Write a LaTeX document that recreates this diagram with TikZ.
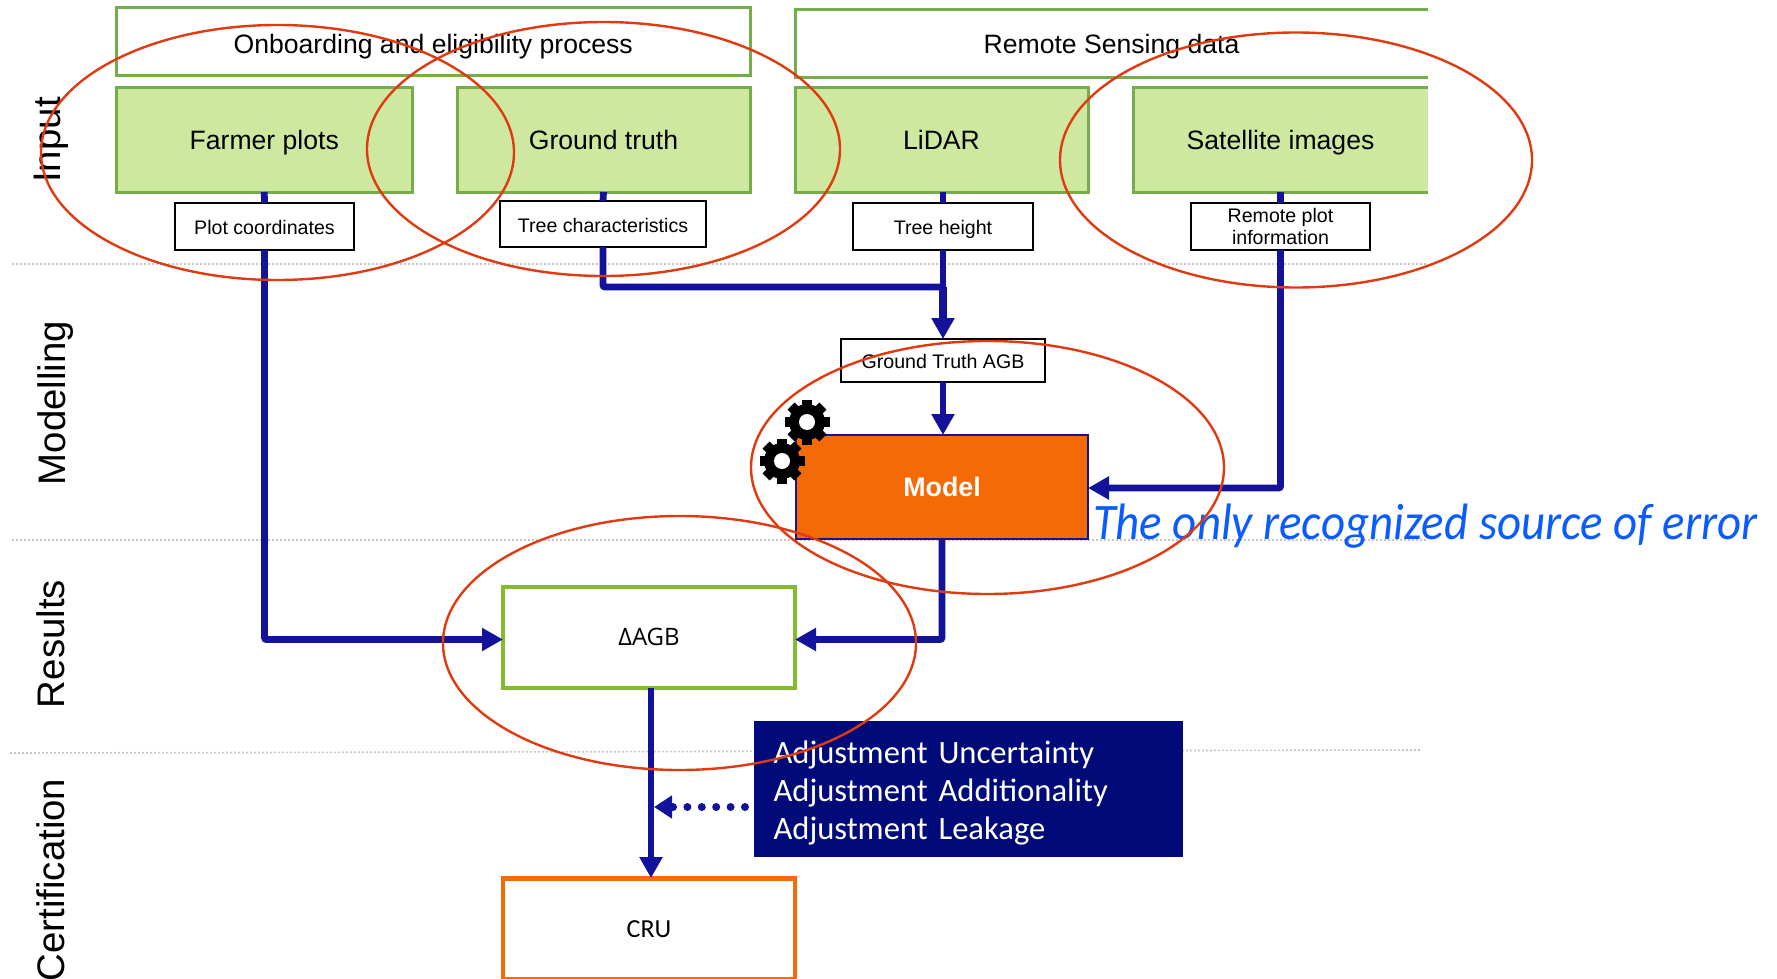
\documentclass[tikz,border=0pt]{standalone}
\usepackage{fontspec}
\setmainfont{Liberation Sans}
\newfontfamily\myr{Open Sans}
\newfontfamily\car{Carlito}
\usetikzlibrary{arrows.meta}
\definecolor{flow}{HTML}{12129A}
\definecolor{navy}{HTML}{000A78}
\definecolor{morange}{HTML}{F46A06}
\definecolor{lgreen}{HTML}{CFE8A0}
\definecolor{bgreen}{HTML}{76AD4B}
\definecolor{dgreen}{HTML}{84BC2C}
\definecolor{redl}{HTML}{E03A10}
\definecolor{bluet}{HTML}{0A5CFF}
\newcommand\fs[1]{\fontsize{#1}{#1}\selectfont}
\newcommand\bx[7][]{%
  \pgfmathsetmacro\bcx{(#3+#5)/2}\pgfmathsetmacro\bcy{(#4+#6)/2}%
  \pgfmathsetmacro\bwd{(#5-#3)*0.5}\pgfmathsetmacro\bht{(#6-#4)*0.5}%
  \node[#1,minimum width=\bwd pt,minimum height=\bht pt] (#2) at (\bcx,\bcy) {#7};}
\newcommand\gear[2]{%
  \fill[black] (#1,#2) circle (18);
  \foreach \a in {0,45,...,315}{\draw[black,line width=5pt] (#1,#2) -- ++(\a:22.5);}
  \fill[white] (#1,#2) circle (8);}
\tikzset{
  x=0.5pt,y=-0.5pt,
  every node/.style={inner sep=0pt,outer sep=0pt,align=center},
  oneline/.style={text height=11.7pt,text depth=2pt},
  outl/.style={draw=bgreen,line width=1.5pt,fill=white,font=\fs{13.3},oneline},
  open/.style={fill=white,font=\fs{13.3},oneline},
  solidg/.style={draw=bgreen,line width=1.5pt,fill=lgreen,font=\fs{13.3},oneline},
  opensolid/.style={fill=lgreen,font=\fs{13.3},oneline},
  small/.style={draw=black,line width=1.2pt,fill=white,font=\fs{9.8}},
  smallone/.style={small,text height=10pt,text depth=2pt},
  side/.style={rotate=90,font=\fs{19.2}},
  conn/.style={draw=flow,line width=3.4pt,rounded corners=1pt},
  arr/.style={conn,-{Triangle[length=10.5pt,width=11pt]}},
  sep/.style={draw=gray!45,line width=0.8pt,dash pattern=on 1pt off 1pt},
  hoop/.style={draw=redl,line width=1.2pt},
}
\begin{document}
\begin{tikzpicture}
\useasboundingbox (0,0) rectangle (1777,979);
\clip (0,0) rectangle (1777,979);
% separators
\draw[sep] (12,264) -- (1428,264);
\draw[sep] (12,540) -- (1428,540);
\draw[sep] (10,753) -- (1420,750);
% side labels
\node[side] (lin) at (51,140) {Input};
\node[side] (lmo) at (56,403) {Modelling};
\node[side] (lre) at (51,644) {Results};
\node[side] (lce) at (51,880) {Certification};
% coordinates for connector bends and free ends
\coordinate (junc) at (943,287);
\coordinate (dsrc) at (651,688);
\coordinate (dtip) at (651,878);
\coordinate (dots) at (745,807);
\coordinate (dote) at (654,807);
% nodes
\bx[outl]{onb}{116.5}{8}{750}{76}{\raisebox{-1pt}{Onboarding and eligibility process}}
\bx[open]{rs}{795}{10}{1428}{78}{Remote Sensing data}
\draw[draw=bgreen,line width=1.5pt] (rs.north east) -- (rs.north west) -- (rs.south west) -- (rs.south east);
\bx[solidg]{farm}{116.5}{88}{412}{192}{Farmer plots}
\bx[solidg]{truth}{457}{88}{750}{192}{Ground truth}
\bx[solidg]{lidar}{795}{88}{1088}{192}{LiDAR}
\bx[opensolid]{sat}{1133}{88}{1428}{192}{Satellite images}
\draw[draw=bgreen,line width=1.5pt] (sat.north east) -- (sat.north west) -- (sat.south west) -- (sat.south east);
\bx[smallone]{pc}{175}{203}{354}{250}{Plot coordinates}
\bx[smallone]{tc}{500}{201}{706}{247}{Tree characteristics}
\bx[smallone]{th}{853}{203}{1033}{250}{Tree height}
\bx[small]{rp}{1191}{203}{1370}{250}{Remote plot\\[1pt]information}
\bx[smallone]{gta}{841}{339}{1045}{382}{Ground Truth AGB}
\bx[draw=flow,line width=1.1pt,fill=morange,text=white,font=\fs{13.4}\bfseries]{model}{796}{435}{1088}{539}{\raisebox{-0.5pt}{Model}}
\bx[draw=dgreen,line width=2.4pt,fill=white,font=\myr\fs{12}]{dagb}{503}{587}{795}{688}{\raisebox{0.5pt}{ΔAGB}}
\bx[draw=morange,line width=2.4pt,fill=white,font=\car\fs{13}]{cru}{503}{878.5}{795}{979}{CRU}
\bx[fill=navy,text=white,font=\car\fs{16.3},text width=195pt,align=left]{adj}{754}{721}{1183}{857}{\rule{0pt}{15pt}Adjustment Uncertainty\\[2.7pt]Adjustment Additionality\\[2.7pt]Adjustment Leakage}
% connectors
\draw[conn] (farm.south) -- (pc.north);
\draw[conn] (truth.south) -- (tc.north);
\draw[conn] (lidar.south -| th.north) -- (th.north);
\draw[conn] (sat.south) -- (rp.north);
\draw[arr] (pc.south) |- ([yshift=-1pt]dagb.west);
\draw[conn] (tc.south) |- (junc);
\draw[conn] (th.south) -- (junc);
\draw[arr,line width=4.3pt] (junc) -- (gta.north);
\draw[arr] (gta.south) -- ([xshift=0.5pt]model.north);
\draw[arr] (rp.south) |- ([yshift=-0.5pt]model.east);
\draw[arr] (model.south) |- ([yshift=-1pt]dagb.east);
\draw[arr] (dsrc) -- (dtip);
\draw[draw=flow,line width=4pt,line cap=round,dash pattern=on 0pt off 7.2pt,-{Triangle[length=9pt,width=11pt]}] (dots) -- (dote);
% gears
\gear{807}{422}
\gear{782}{461}
% error note
\node[anchor=base west,text=bluet,font=\car\itshape\fs{25.6}] (note) at (1093,539) {\scalebox{0.916}[1]{The only recognized source of error}};
% ellipses
\draw[hoop] (277.5,152.5) ellipse (236.5 and 127.5);
\draw[hoop] (603.5,149) ellipse (236.5 and 127);
\draw[hoop] (1296,160) ellipse (236 and 127.5);
\draw[hoop] (987.5,467.5) ellipse (236.5 and 126.5);
\draw[hoop] (679.5,643) ellipse (236.5 and 127);
\end{tikzpicture}
\end{document}
